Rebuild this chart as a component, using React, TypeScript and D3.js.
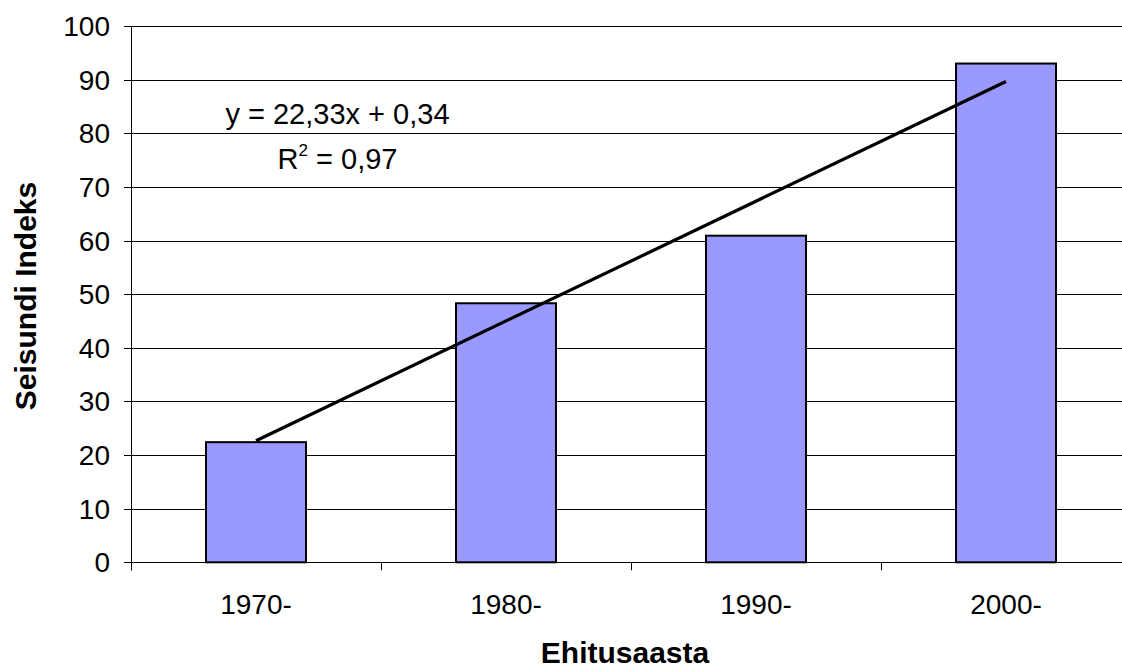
import React from "react";
import * as d3 from "d3";

const categories = ["1970-", "1980-", "1990-", "2000-"];
const values = [22.4, 48.3, 60.9, 93.0];
const yTicks = [0, 10, 20, 30, 40, 50, 60, 70, 80, 90, 100];
const trendSlope = 22.33;
const trendIntercept = 0.34;
const equationText = "y = 22,33x + 0,34";
const r2Text = "= 0,97";
const yTitle = "Seisundi Indeks";
const xTitle = "Ehitusaasta";

const W = 1122;
const H = 670;
const left = 131;
const right = 1131;
const top = 26;
const bottom = 562.3;
const font = "'Liberation Sans', Arial, sans-serif";

export default function App() {
  const y = d3.scaleLinear().domain([0, 100]).range([bottom, top]);
  const x = d3
    .scaleBand<string>()
    .domain(categories)
    .range([left, right])
    .paddingInner(0.6)
    .paddingOuter(0.3);
  const step = x.step();
  const center = (c: string) => (x(c) as number) + x.bandwidth() / 2;

  const trendPts: [number, number][] = [
    [center(categories[0]), y(trendSlope * 1 + trendIntercept)],
    [center(categories[categories.length - 1]), y(trendSlope * categories.length + trendIntercept)],
  ];
  const line = d3.line();

  const boundaries = categories.map((c) => (x(c) as number) - step * 0.3);

  return (
    <svg
      width={W}
      height={H}
      style={{ position: "absolute", left: 0, top: 0, background: "#fff" }}
      fontFamily={font}
    >
      <rect x={0} y={0} width={W} height={H} fill="#fff" />
      {yTicks.map((t) => (
        <line
          key={"g" + t}
          x1={left}
          x2={right}
          y1={Math.round(y(t)) + 0.5}
          y2={Math.round(y(t)) + 0.5}
          stroke="#000"
          strokeWidth={1}
        />
      ))}
      {yTicks.map((t) => (
        <g key={"t" + t}>
          <line
            x1={left - 7}
            x2={left}
            y1={Math.round(y(t)) + 0.5}
            y2={Math.round(y(t)) + 0.5}
            stroke="#000"
          />
          <text
            x={110}
            y={y(t)}
            dy="0.36em"
            textAnchor="end"
            fontSize={28}
            fill="#000"
          >
            {t}
          </text>
        </g>
      ))}
      <line x1={left + 0.5} x2={left + 0.5} y1={top} y2={bottom + 8} stroke="#000" />
      {boundaries.map((b, i) => (
        <line key={"xt" + i} x1={b + 0.5} x2={b + 0.5} y1={bottom} y2={bottom + 8} stroke="#000" />
      ))}
      {categories.map((c, i) => (
        <rect
          key={c}
          x={x(c)}
          y={y(values[i])}
          width={x.bandwidth()}
          height={bottom - y(values[i])}
          fill="#9999FF"
          stroke="#000"
          strokeWidth={2}
        />
      ))}
      <path d={line(trendPts) || ""} stroke="#000" strokeWidth={3.2} fill="none" />
      {categories.map((c) => (
        <text key={"l" + c} x={center(c)} y={614} textAnchor="middle" fontSize={28} fill="#000">
          {c}
        </text>
      ))}
      <text x={337.5} y={124} textAnchor="middle" fontSize={29} fill="#000">
        {equationText}
      </text>
      <text x={337.5} y={169} textAnchor="middle" fontSize={29} fill="#000">
        R<tspan fontSize={17} dy={-13}>2</tspan>
        <tspan dy={13}> {r2Text}</tspan>
      </text>
      <text
        transform={`translate(36, 296) rotate(-90)`}
        textAnchor="middle"
        fontSize={30}
        fontWeight="bold"
        fill="#000"
      >
        {yTitle}
      </text>
      <text x={625} y={663} textAnchor="middle" fontSize={30} fontWeight="bold" fill="#000">
        {xTitle}
      </text>
    </svg>
  );
}
